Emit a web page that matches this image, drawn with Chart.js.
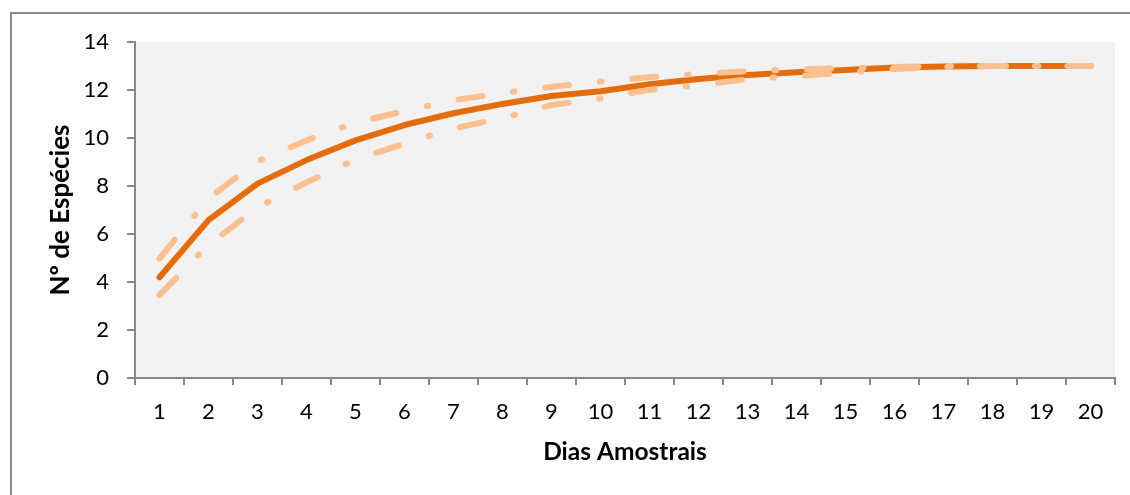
<!DOCTYPE html>
<html lang="pt">
<head>
<meta charset="utf-8">
<title>Curva de acumulação de espécies</title>
<script src="https://cdn.jsdelivr.net/npm/chart.js@4/dist/chart.umd.min.js"></script>
<style>
  html, body { margin: 0; padding: 0; background: #ffffff; overflow: hidden; }
  #frame {
    position: absolute; left: 10px; top: 12px;
    width: 1300px; height: 700px;
    border: 2px solid #8c8c8c; box-sizing: border-box;
  }
  #chart { position: absolute; left: 0; top: 0; }
</style>
</head>
<body>
<div id="frame"></div>
<canvas id="chart" width="1130" height="495"></canvas>
<script>
// Sampling days (x axis categories)
const dias = ['1','2','3','4','5','6','7','8','9','10','11','12','13','14','15','16','17','18','19','20'];

// Mean accumulated number of species
const especiesMedia = [4.2, 6.58, 8.1, 9.08, 9.9, 10.54, 11.03, 11.42, 11.75, 11.95,
                       12.24, 12.46, 12.63, 12.74, 12.83, 12.94, 12.98, 13.0, 13.0, 13.0];

// Upper and lower confidence bounds
const limiteSuperior = [4.98, 7.48, 9.03, 9.9, 10.64, 11.12, 11.57, 11.87, 12.13, 12.35,
                        12.53, 12.67, 12.78, 12.85, 12.91, 12.96, 13.0, 13.0, 13.0, 13.0];
const limiteInferior = [3.46, 5.55, 7.1, 8.15, 9.1, 9.77, 10.4, 10.83, 11.37, 11.65,
                        12.01, 12.2, 12.45, 12.58, 12.72, 12.88, 12.96, 13.0, 13.0, 13.0];

// Y axis range and tick spacing
const yMin = 0, yMax = 14, yPasso = 2;

const fonte = 'Lato, "Open Sans", sans-serif';
const corEixo = '#868686';
// long dash - dot pattern for the confidence bounds
const tracoPonto = [24, 31, 1.5, 31];

// Grey plotting area behind the series
const fundoArea = {
  id: 'fundoArea',
  beforeDraw(chart) {
    const { ctx, chartArea: a } = chart;
    ctx.save();
    ctx.fillStyle = '#f2f2f2';
    ctx.fillRect(a.left, a.top, a.right - a.left, a.bottom - a.top);
    ctx.restore();
  }
};

const estiloLimite = {
  borderColor: '#fac090',
  borderWidth: 6,
  borderDash: tracoPonto,
  borderCapStyle: 'round',
  borderJoinStyle: 'round',
  pointRadius: 0,
  tension: 0,
  fill: false
};

new Chart(document.getElementById('chart'), {
  type: 'line',
  data: {
    labels: dias,
    datasets: [
      Object.assign({ label: 'Limite superior', data: limiteSuperior }, estiloLimite),
      Object.assign({ label: 'Limite inferior', data: limiteInferior }, estiloLimite),
      {
        label: 'Nº de Espécies',
        data: especiesMedia,
        borderColor: '#e46c0a',
        borderWidth: 6,
        borderCapStyle: 'round',
        borderJoinStyle: 'round',
        pointRadius: 0,
        tension: 0,
        fill: false
      }
    ]
  },
  options: {
    responsive: false,
    animation: false,
    events: [],
    layout: { padding: { top: 42, right: 15, left: 0, bottom: 0 } },
    plugins: {
      legend: { display: false },
      tooltip: { enabled: false }
    },
    scales: {
      x: {
        type: 'category',
        offset: true,
        grid: {
          offset: true,
          drawOnChartArea: false,
          drawTicks: true,
          tickLength: 7,
          color: corEixo,
          lineWidth: 2
        },
        border: { color: corEixo, width: 2 },
        ticks: {
          color: '#000000',
          font: { family: fonte, size: 22 },
          padding: 14,
          maxRotation: 0,
          autoSkip: false
        },
        title: {
          display: true,
          text: 'Dias Amostrais',
          color: '#000000',
          font: { family: fonte, size: 24.5, weight: 'bold' },
          padding: { top: 0, bottom: 28 }
        },
        afterFit(scale) { scale.height = 117; }
      },
      y: {
        min: yMin,
        max: yMax,
        grid: {
          drawOnChartArea: false,
          drawTicks: true,
          tickLength: 8,
          color: corEixo,
          lineWidth: 2
        },
        border: { color: corEixo, width: 2 },
        ticks: {
          stepSize: yPasso,
          color: '#000000',
          font: { family: fonte, size: 22 },
          padding: 18
        },
        title: {
          display: true,
          text: 'Nº de Espécies',
          color: '#000000',
          font: { family: fonte, size: 26, weight: 'bold' },
          padding: { top: 45, bottom: 0 }
        },
        afterFit(scale) { scale.width = 135; }
      }
    }
  },
  plugins: [fundoArea]
});
</script>
</body>
</html>
